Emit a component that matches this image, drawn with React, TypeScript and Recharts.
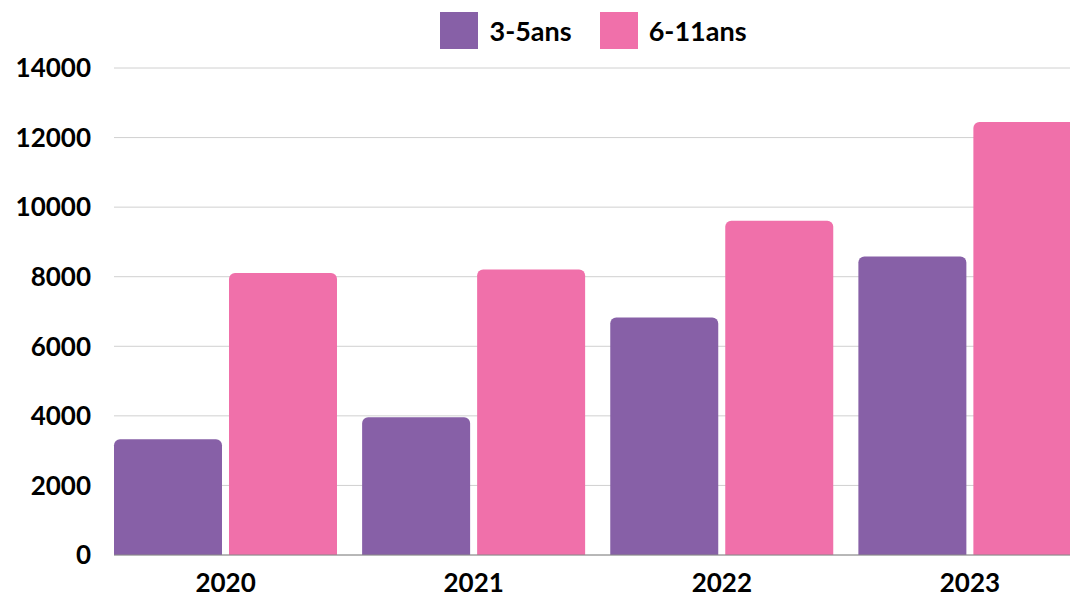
import React from 'react';
import { BarChart, Bar, XAxis, YAxis, CartesianGrid, Legend } from 'recharts';

const years = ['2020', '2021', '2022', '2023'];
const ages3to5 = [3330, 3960, 6830, 8580];
const ages6to11 = [8110, 8210, 9610, 12450];
const yTicks = [0, 2000, 4000, 6000, 8000, 10000, 12000, 14000];

const PURPLE = '#8760A7';
const PINK = '#F070AA';
const FONT = 'Lato, "DejaVu Sans", sans-serif';

const data = years.map((year, i) => ({ year, a: ages3to5[i], b: ages6to11[i] }));

const legendItems = [
	{ label: '3-5ans', color: PURPLE },
	{ label: '6-11ans', color: PINK },
];

function LegendContent() {
	return (
		<div style={{ display: 'flex', justifyContent: 'center', alignItems: 'center', gap: 28, fontFamily: FONT }}>
			{legendItems.map((item) => (
				<div key={item.label} style={{ display: 'flex', alignItems: 'center' }}>
					<span style={{ width: 38, height: 37, background: item.color, display: 'inline-block', marginRight: 11 }} />
					<span style={{ fontSize: 27, fontWeight: 700, color: '#000' }}>{item.label}</span>
				</div>
			))}
		</div>
	);
}

export default function App() {
	return (
		<div style={{ position: 'absolute', left: 0, top: 0, width: 1070, height: 597, overflow: 'hidden', background: '#fff' }}>
			<BarChart
				width={1094}
				height={597}
				data={data}
				margin={{ top: 31, right: 0, bottom: 0, left: 0 }}
				barCategoryGap={12.5}
				barGap={7}
			>
				<CartesianGrid vertical={false} stroke="#d0d0d0" />
				<Legend
					verticalAlign="top"
					content={<LegendContent />}
					wrapperStyle={{ top: 12, left: 0, width: 1187, height: 37 }}
				/>
				<XAxis
					dataKey="year"
					height={42}
					padding={{ left: -12.5, right: 0 }}
					tickLine={false}
					axisLine={{ stroke: '#888' }}
					tickMargin={13}
					tick={{ fill: '#000', fontSize: 26, fontWeight: 700, fontFamily: FONT }}
				/>
				<YAxis
					width={114}
					domain={[0, 14000]}
					ticks={yTicks}
					axisLine={false}
					tickLine={false}
					tickMargin={17}
					tick={{ fill: '#000', fontSize: 26, fontWeight: 700, fontFamily: FONT }}
				/>
				<Bar dataKey="a" name="3-5ans" fill={PURPLE} radius={[6, 6, 0, 0]} isAnimationActive={false} />
				<Bar dataKey="b" name="6-11ans" fill={PINK} radius={[6, 6, 0, 0]} isAnimationActive={false} />
			</BarChart>
		</div>
	);
}
